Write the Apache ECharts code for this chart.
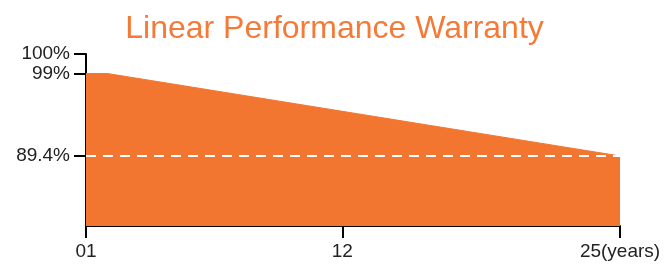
<!DOCTYPE html>
<html>
<head>
<meta charset="utf-8">
<script src="https://cdn.jsdelivr.net/npm/echarts@6/dist/echarts.min.js"></script>
<style>
  html, body { margin: 0; padding: 0; background: #fff; }
  #chart { width: 669px; height: 264px; }
</style>
</head>
<body>
<div id="chart"></div>
<script>
// warranty curve: years and guaranteed output (%)
var years = [0, 1, 25]
var output = [99, 99, 89.4]

// axis ticks and labels
var xTickValues = [0, 12, 25]
var xTickLabels = ['01', '12', '25(years)']
var yTickValues = [101.27, 99, 89.4] // top of the axis is labelled 100%
var yTickLabels = ['100%', '99%', '89.4%']
var endLevel = 89.4

var orange = '#F37630'

var chart = echarts.init(document.getElementById('chart'))

var option = {
  animation: false,
  backgroundColor: '#fff',
  title: {
    text: 'Linear Performance Warranty',
    left: 'center',
    top: 8,
    textStyle: {
      color: '#F47A38',
      fontSize: 32,
      fontWeight: 'normal',
      fontFamily: 'Liberation Sans'
    }
  },
  grid: {
    left: 86,
    right: 49,
    top: 54,
    bottom: 38
  },
  xAxis: {
    type: 'value',
    min: 0,
    max: 25,
    splitLine: { show: false },
    axisLine: { lineStyle: { color: '#000', width: 2 } },
    axisTick: {
      customValues: xTickValues,
      length: 12,
      lineStyle: { color: '#000', width: 2 }
    },
    axisLabel: {
      customValues: xTickValues,
      margin: 16,
      color: '#222',
      fontSize: 19,
      fontFamily: 'Liberation Sans',
      formatter: function (v) {
        var i = xTickValues.indexOf(v)
        return i >= 0 ? xTickLabels[i] : ''
      }
    }
  },
  yAxis: {
    type: 'value',
    min: 81.25,
    max: 101.27,
    splitLine: { show: false },
    axisLine: { show: true, lineStyle: { color: '#000', width: 2 } },
    axisTick: {
      show: true,
      customValues: yTickValues,
      length: 12,
      lineStyle: { color: '#000', width: 2 }
    },
    axisLabel: {
      customValues: yTickValues,
      margin: 16,
      color: '#222',
      fontSize: 19,
      fontFamily: 'Liberation Sans',
      formatter: function (v) {
        for (var i = 0; i < yTickValues.length; i++) {
          if (Math.abs(yTickValues[i] - v) < 0.001) return yTickLabels[i]
        }
        return ''
      }
    }
  },
  series: [{
    type: 'line',
    data: years.map(function (y, i) { return [y, output[i]] }),
    symbol: 'none',
    lineStyle: { color: orange, width: 1 },
    areaStyle: { color: orange, opacity: 1, origin: 'start' },
    markLine: {
      silent: true,
      symbol: 'none',
      label: { show: false },
      lineStyle: { color: '#fff', type: [10, 7], width: 2 },
      data: [{ yAxis: endLevel }]
    }
  }]
}

chart.setOption(option)
</script>
</body>
</html>
